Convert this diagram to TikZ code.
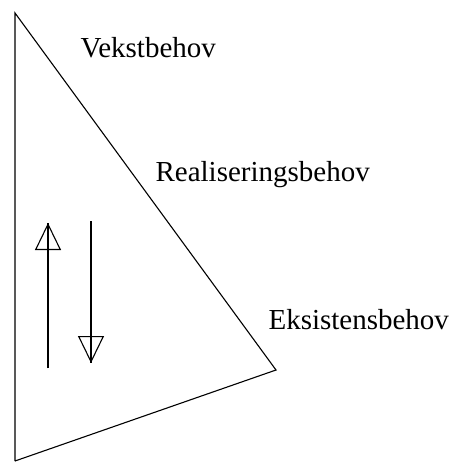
\documentclass[tikz,border=0pt]{standalone}
\usepackage{fontspec}
\setmainfont{Liberation Serif}
\usetikzlibrary{arrows.meta}

\begin{document}
\begin{tikzpicture}[
  x=1pt, y=-1pt,
  line width=1.1pt,
  need/.style={anchor=base west, inner sep=0pt, font=\fontsize{29}{32}\selectfont},
  flow/.style={-{Triangle[open, length=27pt, width=26pt, line width=1.1pt]}}
]
  \useasboundingbox (0,0) rectangle (455,462);
  % pyramid
  \coordinate (top) at (15,13);
  \coordinate (right) at (276,370);
  \coordinate (bottom) at (15,461);
  \draw (bottom) -- (top) -- (right) -- (bottom);
  % levels
  \node[need] (vekst) at (80,58) {Vekstbehov};
  \node[need] (real) at (155,182) {Realiseringsbehov};
  \node[need] (eksist) at (268,329) {Eksistensbehov};
  % up and down
  \coordinate (upfoot) at (48,368);
  \coordinate (uptip) at (48,223);
  \coordinate (downtop) at (91,221);
  \coordinate (downtip) at (91,363);
  \draw (upfoot) -- (uptip);
  \draw[flow] (upfoot) -- (uptip);
  \draw (downtop) -- (downtip);
  \draw[flow] (downtop) -- (downtip);
\end{tikzpicture}
\end{document}
